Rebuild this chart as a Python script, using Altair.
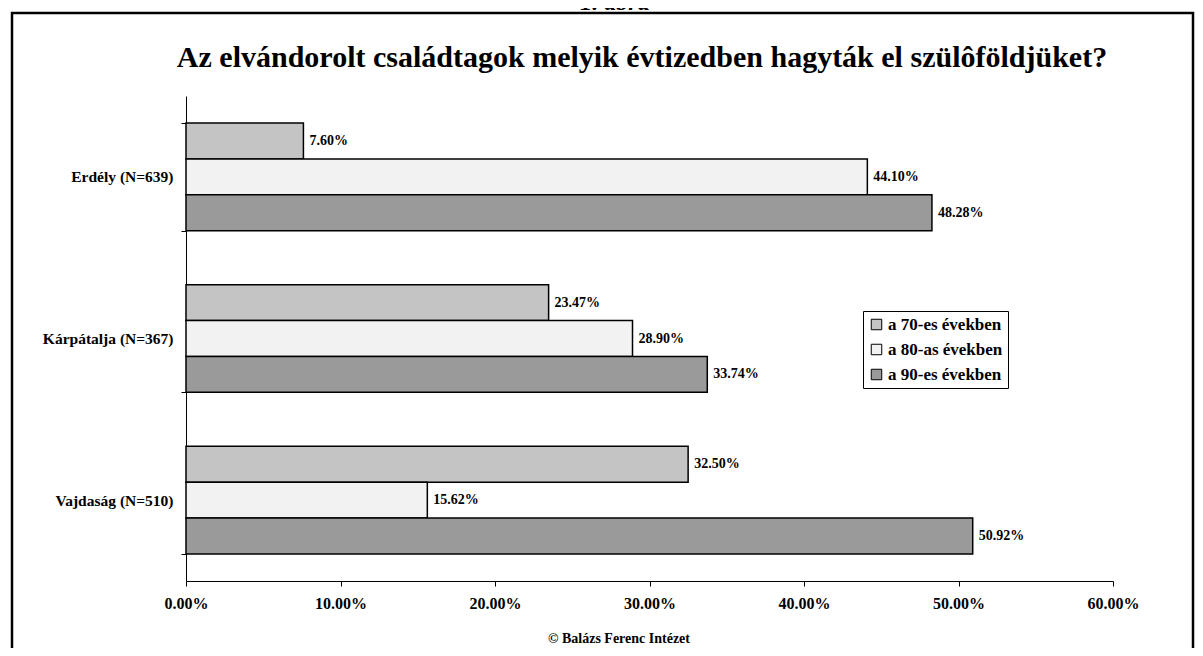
import altair as alt
import pandas as pd

regions = ["Erdély (N=639)", "Kárpátalja (N=367)", "Vajdaság (N=510)"]
series = ["a 70-es években", "a 80-as években", "a 90-es években"]
v70 = [0.0760, 0.2347, 0.3250]
v80 = [0.4410, 0.2890, 0.1562]
v90 = [0.4828, 0.3374, 0.5092]
x_ticks = [0.0, 0.1, 0.2, 0.3, 0.4, 0.5, 0.6]
fills = ["#c4c4c4", "#f2f2f2", "#9a9a9a"]

title_text = "Az elvándorolt családtagok melyik évtizedben hagyták el szülôföldjüket?"
footer_text = "© Balázs Ferenc Intézet"
figure_text = "1. ábra"

rows = []
for i, r in enumerate(regions):
    for s, vals in zip(series, [v70, v80, v90]):
        rows.append({"region": r, "series": s, "value": vals[i]})
df = pd.DataFrame(rows)

FONT = "Liberation Serif"
W, H = 927, 485

base = alt.Chart(df).encode(
    y=alt.Y("region:N", sort=regions, title=None,
            scale=alt.Scale(paddingInner=0.334, paddingOuter=0.167),
            axis=alt.Axis(tickBand="extent", labelFont=FONT, labelFontWeight="bold",
                          labelFontSize=15.5, labelColor="black", domainColor="black",
                          tickColor="black", tickSize=5, labelPadding=8, grid=False)),
    yOffset=alt.YOffset("series:N", sort=series,
                        scale=alt.Scale(paddingInner=0, paddingOuter=0)),
)

bars = base.mark_bar(stroke="black", strokeWidth=1.5, opacity=1).encode(
    x=alt.X("value:Q", title=None,
            scale=alt.Scale(domain=[0, 0.6], nice=False, zero=True),
            axis=alt.Axis(values=x_ticks, format=".2%", labelFont=FONT,
                          labelFontWeight="bold", labelFontSize=16, labelColor="black",
                          domainColor="black", tickColor="black", tickSize=5,
                          labelPadding=9, labelFlush=False, grid=False)),
    color=alt.Color("series:N", sort=series,
                    scale=alt.Scale(domain=series, range=fills),
                    legend=alt.Legend(title=None, orient="none", legendX=677, legendY=215,
                                      strokeColor="black", fillColor="white", padding=5,
                                      symbolType="square", symbolSize=110,
                                      symbolStrokeColor="black", symbolStrokeWidth=1,
                                      symbolOpacity=1,
                                      labelFont=FONT, labelFontWeight="bold",
                                      labelFontSize=17, labelColor="black",
                                      rowPadding=7, labelOffset=3)),
)

labels = base.mark_text(align="left", baseline="middle", dx=6, font=FONT,
                        fontWeight="bold", fontSize=14, color="black").encode(
    x=alt.X("value:Q"),
    text=alt.Text("value:Q", format=".2%"),
)

one = pd.DataFrame({"t": [0]})

border = alt.Chart(one).mark_rect(fill=None, stroke="black", strokeWidth=2.5).encode(
    x=alt.value(12 - 186), x2=alt.value(1193 - 186),
    y=alt.value(13 - 96), y2=alt.value(700),
)

title = alt.Chart(one).mark_text(text=title_text, font=FONT, fontWeight="bold",
                                 fontSize=30, align="center", baseline="alphabetic",
                                 color="black").encode(
    x=alt.value(642 - 186), y=alt.value(67 - 96))

footer = alt.Chart(one).mark_text(text=footer_text, font=FONT, fontWeight="bold",
                                  fontSize=14, align="center", baseline="alphabetic",
                                  color="black").encode(
    x=alt.value(619 - 186), y=alt.value(643 - 96))

fig = alt.Chart(one).mark_text(text=figure_text, font=FONT, fontWeight="bold",
                               fontStyle="italic", fontSize=24, align="center",
                               baseline="alphabetic", color="black").encode(
    x=alt.value(615 - 186), y=alt.value(10 - 96))

chart = alt.layer(bars, labels, border, title, footer, fig).properties(
    width=W, height=H,
    autosize=alt.AutoSizeParams(type="none"),
    padding={"left": 178, "top": 88, "right": 82, "bottom": 67},
).configure(background="white").configure_view(stroke=None, strokeWidth=0)

chart.save("out.html", embed_options={"renderer": "svg", "actions": False})
